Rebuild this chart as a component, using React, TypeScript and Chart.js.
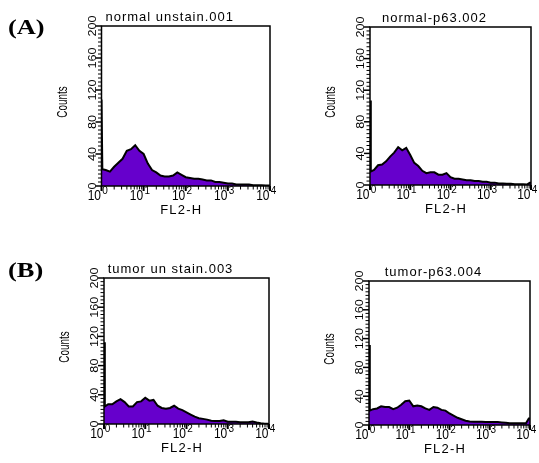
import React, { useEffect, useRef } from 'react';
import { Chart, registerables } from 'chart.js';

Chart.register(...registerables);

// ---- data ----
// FL2-H channel positions, in decades (10^d)
const channelDecades = [
  0, 0.02, 0.1, 0.2, 0.3, 0.4, 0.5, 0.6, 0.7, 0.8, 0.9, 1.0, 1.1, 1.2, 1.3, 1.4, 1.5, 1.6, 1.7, 1.8, 1.9,
  2.0, 2.1, 2.2, 2.3, 2.4, 2.5, 2.6, 2.7, 2.8, 2.9, 3.0, 3.1, 3.2, 3.3, 3.4, 3.5, 3.6, 3.7, 3.8, 3.9, 3.97, 4.0,
];
const normalUnstainCounts = [
  108, 21, 20, 18, 24, 29, 34, 44, 46, 51, 44, 40, 28, 20, 17, 13, 12, 12, 13, 17, 14,
  11, 10, 9, 9, 8, 7, 7, 5, 5, 4, 3, 3, 2, 2, 2, 2, 1, 1, 1, 0.5, 0.5, 0.5,
];
const normalP63Counts = [
  107, 17, 19, 25, 26, 30, 36, 41, 48, 44, 47, 38, 28, 24, 18, 15, 16, 16, 13, 13, 15,
  10, 8, 8, 7, 6, 6, 5, 5, 4, 4, 3, 3, 2, 2, 1.5, 1.5, 1, 1, 1, 0.5, 3, 3,
];
const tumorUnstainCounts = [
  112, 24, 27, 27, 31, 34, 30, 24, 24, 30, 31, 36, 32, 33, 25, 22, 21, 22, 25, 21, 19,
  16, 13, 10, 8, 7, 6, 4.5, 4, 4, 5, 3, 3, 3, 2.5, 2.5, 2.5, 3.5, 2, 1, 0.5, 0.5, 0,
];
const tumorP63Counts = [
  111, 20, 22, 23, 26, 25, 25, 22, 24, 28, 33, 34, 26, 27, 26, 23, 21, 25, 24, 21, 20,
  16, 13, 10, 8, 6, 5, 4.5, 4.5, 4.5, 4, 4, 4, 4, 3.5, 3, 2.5, 2.5, 2.5, 2.5, 2.3, 9, 9,
];
const panelTitles = ['normal unstain.001', 'normal-p63.002', 'tumor un stain.003', 'tumor-p63.004'];
const yTickValues = [0, 40, 80, 120, 160, 200];
const xDecadeExponents = [0, 1, 2, 3, 4];
const xAxisTitle = 'FL2-H';
const yAxisTitle = 'Counts';
const groupLabels = ['(A)', '(B)'];

// ---- layout / style ----
const FILL = '#6600cc';
const SANS = '"Liberation Sans", Arial, sans-serif';

const panelLayouts = [
  { left: 0, top: 0, width: 280, height: 230, pad: { left: 101.5, top: 26, right: 10, bottom: 44 } },
  { left: 280, top: 0, width: 259, height: 230, pad: { left: 90, top: 27, right: 8, bottom: 45 } },
  { left: 0, top: 230, width: 280, height: 233, pad: { left: 104, top: 48, right: 11, bottom: 39 } },
  { left: 280, top: 230, width: 259, height: 233, pad: { left: 89, top: 51, right: 9, bottom: 38 } },
];

type TextOpts = {
  font: string;
  align?: CanvasTextAlign;
  baseline?: CanvasTextBaseline;
  rotate?: number;
  sx?: number;
  sy?: number;
  spacing?: string;
};

function drawText(ctx: CanvasRenderingContext2D, text: string, x: number, y: number, o: TextOpts) {
  ctx.save();
  ctx.translate(x, y);
  if (o.rotate) ctx.rotate(o.rotate);
  ctx.scale(o.sx ?? 1, o.sy ?? 1);
  ctx.font = o.font;
  ctx.textAlign = o.align ?? 'left';
  ctx.textBaseline = o.baseline ?? 'alphabetic';
  (ctx as any).letterSpacing = o.spacing ?? '0px';
  ctx.fillStyle = '#000';
  ctx.fillText(text, 0, 0);
  ctx.restore();
}

const facsDecor = {
  id: 'facsDecor',
  afterDraw(chart: any, _args: any, opts: any) {
    const ctx: CanvasRenderingContext2D = chart.ctx;
    const a = chart.chartArea;
    const xs = chart.scales.x;
    const ys = chart.scales.y;
    ctx.save();
    ctx.strokeStyle = '#000';
    ctx.lineCap = 'butt';

    const seg = (x1: number, y1: number, x2: number, y2: number, w: number) => {
      ctx.lineWidth = w;
      ctx.beginPath();
      ctx.moveTo(x1, y1);
      ctx.lineTo(x2, y2);
      ctx.stroke();
    };

    // frame
    ctx.lineWidth = 1.5;
    ctx.strokeRect(a.left, a.top, a.right - a.left, a.bottom - a.top);

    // y ticks (major every 40, minor every 5)
    for (let v = 0; v <= 200; v += 5) {
      const py = ys.getPixelForValue(v);
      const major = v % 40 === 0;
      seg(a.left, py, a.left - (major ? 6 : 3.5), py, major ? 1.5 : 1);
    }
    // x ticks (decades + minor 2..9)
    xDecadeExponents.forEach((e) => {
      const base = Math.pow(10, e);
      const pxMajor = xs.getPixelForValue(base);
      seg(pxMajor, a.bottom, pxMajor, a.bottom + 5, 2);
      if (e < 4) {
        for (let m = 2; m <= 9; m++) {
          const px = xs.getPixelForValue(m * base);
          seg(px, a.bottom, px, a.bottom + 3.5, 1);
        }
      }
    });

    // y tick labels (rotated)
    yTickValues.forEach((v) => {
      const py = ys.getPixelForValue(v);
      drawText(ctx, String(v), a.left - 9, py, {
        font: `11px ${SANS}`, align: 'center', baseline: 'middle', rotate: -Math.PI / 2, sx: 1.15,
      });
    });

    // x tick labels 10^n
    xDecadeExponents.forEach((e) => {
      const px = xs.getPixelForValue(Math.pow(10, e));
      drawText(ctx, '10', px - 0.5, a.bottom + 14, { font: `12px ${SANS}`, align: 'right', sy: 1.15 });
      drawText(ctx, String(e), px + 0.8, a.bottom + 7.5, { font: `10px ${SANS}`, align: 'left', sy: 1.1 });
    });

    const cx = (a.left + a.right) / 2;
    const cy = (a.top + a.bottom) / 2;
    // axis titles
    drawText(ctx, xAxisTitle, cx - 4.5, a.bottom + 28, {
      font: `13px ${SANS}`, align: 'center', spacing: '1.2px',
    });
    drawText(ctx, yAxisTitle, a.left - 39, cy - 4, {
      font: `15px ${SANS}`, align: 'center', baseline: 'middle', rotate: -Math.PI / 2, sx: 0.66,
    });
    // panel title
    drawText(ctx, opts.title, cx - 16, a.top - 5, {
      font: `13px ${SANS}`, align: 'center', spacing: '1px',
    });
    ctx.restore();
  },
};

type PanelProps = { idx: number; counts: number[] };

function Panel({ idx, counts }: PanelProps) {
  const ref = useRef<HTMLCanvasElement>(null);
  const lay = panelLayouts[idx];
  useEffect(() => {
    if (!ref.current) return;
    const chart = new Chart(ref.current, {
      type: 'line',
      data: {
        datasets: [
          {
            data: channelDecades.map((d, i) => ({ x: Math.pow(10, d), y: counts[i] })),
            fill: 'origin',
            backgroundColor: FILL,
            borderColor: '#000',
            borderWidth: 2,
            borderJoinStyle: 'miter',
            pointRadius: 0,
            tension: 0,
          },
        ],
      },
      options: {
        responsive: false,
        animation: false,
        devicePixelRatio: 1,
        events: [],
        layout: { padding: lay.pad },
        plugins: {
          legend: { display: false },
          title: { display: false },
          tooltip: { enabled: false },
          facsDecor: { title: panelTitles[idx] },
        } as any,
        scales: {
          x: { type: 'logarithmic', min: 1, max: 10000, display: false },
          y: { type: 'linear', min: 0, max: 200, display: false },
        },
      },
      plugins: [facsDecor as any],
    } as any);
    return () => chart.destroy();
  }, [idx, counts]);
  return (
    <canvas
      ref={ref}
      width={lay.width}
      height={lay.height}
      style={{ position: 'absolute', left: lay.left, top: lay.top, width: lay.width, height: lay.height }}
    />
  );
}

const groupLabelStyle: React.CSSProperties = {
  position: 'absolute',
  left: 8,
  font: 'bold 22px "Liberation Serif", "Times New Roman", serif',
  lineHeight: '22px',
  color: '#000',
  whiteSpace: 'nowrap',
  transform: 'scaleX(1.2)',
  transformOrigin: 'left top',
};

export default function App() {
  const series = [normalUnstainCounts, normalP63Counts, tumorUnstainCounts, tumorP63Counts];
  return (
    <div style={{ position: 'absolute', left: 0, top: 0, width: 539, height: 463, background: '#fff', overflow: 'hidden' }}>
      {series.map((c, i) => (
        <Panel key={i} idx={i} counts={c} />
      ))}
      <div style={{ ...groupLabelStyle, top: 15.5 }}>{groupLabels[0]}</div>
      <div style={{ ...groupLabelStyle, top: 259 }}>{groupLabels[1]}</div>
    </div>
  );
}
